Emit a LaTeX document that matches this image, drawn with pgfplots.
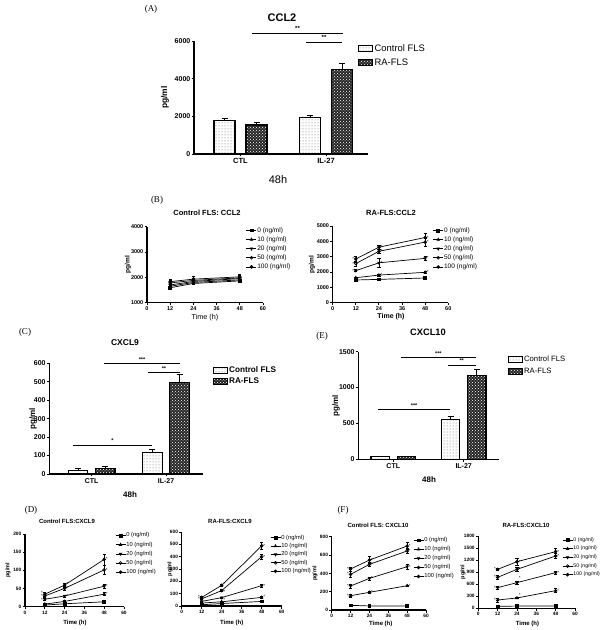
\documentclass[border=0pt]{standalone}
\usepackage{fontspec}
\setmainfont{Liberation Sans}
\newfontfamily\seriffont{Liberation Serif}
\usepackage{pgfplots}
\pgfplotsset{compat=1.18}
\usetikzlibrary{patterns}
\newcommand{\fs}[1]{\fontsize{#1}{#1}\selectfont}
\newcommand{\sR}[2]{\node[font=\fs{4.5}, anchor=west, inner sep=0pt, xshift=1.6pt] at (axis cs:#1,#2) {*};}
\newcommand{\sL}[2]{\node[font=\fs{4.5}, anchor=east, inner sep=0pt, xshift=-1.6pt] at (axis cs:#1,#2) {*};}
\pgfplotsset{
  gp/.style={
    scale only axis, anchor=south west, clip=false,
    axis x line*=bottom, axis y line*=left,
    axis line style={-, line width=1.1pt},
    tick align=outside, major tick length=2.5pt,
    every tick/.style={black, line width=0.9pt},
    /pgf/number format/assume math mode=true,
    /pgf/number format/1000 sep={},
    scaled y ticks=false,
    legend cell align=left,
    yticklabel style={inner sep=1pt},
    xticklabel style={inner sep=1.5pt},
  },
  bargp/.style={gp, ybar, xtick={1,2}, xticklabels={CTL,IL-27},
    error bars/y dir=plus, error bars/y explicit,
    error bars/error bar style={line width=1pt, black},
    error bars/error mark options={rotate=90, mark size=3pt, line width=1pt, black},
    legend image code/.code={\draw[##1, line width=0.9pt] (0pt,-3pt) rectangle (14pt,3pt);},
  },
  ctrl/.style={draw=black, line width=1.2pt, pattern=dots, pattern color=black!60},
  ra/.style={draw=black, line width=1.2pt, fill=black!85, postaction={pattern=crosshatch dots, pattern color=white}},
  linegp/.style={gp, xmin=0, xmax=60, xtick={0,12,24,36,48,60},
    error bars/y dir=both, error bars/y explicit,
    error bars/error bar style={line width=0.5pt, black},
    error bars/error mark options={rotate=90, mark size=1.6pt, line width=0.5pt, black},
    legend image code/.code={\draw[mark repeat=2, mark phase=2, ##1] plot coordinates {(0pt,0pt) (5pt,0pt) (10pt,0pt)};},
    every axis plot/.append style={black, line width=0.7pt, mark size=1.4pt},
  },
  m0/.style={mark=square*, mark options={solid, fill=black}},
  m10/.style={mark=triangle*, mark options={solid, fill=black}},
  m20/.style={mark=triangle*, mark options={solid, fill=black, rotate=180}},
  m50/.style={mark=o, mark options={solid}},
  m100/.style={mark=*, mark options={solid, fill=black}},
  lleg/.style n args={3}{legend style={at={(#1,#2)}, anchor=west, draw=none, fill=none, inner sep=0pt, font=\fs{#3}, row sep=1.9pt, nodes={inner sep=0.5pt}}},
}
\begin{document}
\begin{tikzpicture}
\useasboundingbox (0,0) rectangle (600pt,630pt);
\fill[white] (0,0) rectangle (600pt,630pt);

% ---------------- Panel A
\begin{axis}[bargp, at={(194pt,476pt)}, width=174pt, height=113pt,
  xmin=0.456, xmax=2.49, ymin=0, ymax=6000, ytick={0,2000,4000,6000},
  bar width=0.246,
  yticklabel style={font=\bfseries\fs{7}},
  xticklabel style={font=\bfseries\fs{7.5}},
  legend style={at={(0.943,0.870)}, anchor=west, draw=none, fill=none, font=\fs{9.4}, row sep=2.5pt, inner sep=0pt, nodes={inner sep=1.5pt}},
]
\addplot[ctrl, bar shift=-0.187] coordinates {(1,1793) +- (0,100) (2,1935) +- (0,106)};
\addplot[ra, bar shift=0.187] coordinates {(1,1544) +- (0,107) (2,4473) +- (0,320)};
\legend{Control FLS, RA-FLS}
\draw[line width=0.9pt] (axis cs:1.134,6425) -- (axis cs:2.199,6425) node[midway, above=-1.5pt, font=\fs{6}\bfseries]{**};
\draw[line width=0.9pt] (axis cs:1.766,5947) -- (axis cs:2.187,5947) node[midway, above=-1.5pt, font=\fs{6}\bfseries]{**};
\end{axis}
\node[font=\seriffont\fs{9}] at (151pt,620.7pt) {(A)};
\node[font=\bfseries\fs{11}] at (282pt,612pt) {CCL2};
\node[font=\bfseries\fs{8.4}, rotate=90] at (165pt,532.5pt) {pg/ml};
\node[font=\fs{11}] at (278pt,450pt) {48h};

% ---------------- Panel B left
\begin{axis}[linegp, at={(147pt,327.3pt)}, width=116pt, height=76pt,
  ymin=1000, ymax=4000, ytick={1000,2000,3000,4000},
  yticklabel style={font=\bfseries\fs{5.5}}, xticklabel style={font=\bfseries\fs{5.5}},
  lleg={0.853}{0.711}{6.5},
]
\addplot[m0] coordinates {(12,1590) +- (0,60) (24,1760) +- (0,50) (48,1860) +- (0,60)};
\addplot[m10] coordinates {(12,1650) +- (0,70) (24,1800) +- (0,60) (48,1900) +- (0,70)};
\addplot[m20] coordinates {(12,1700) +- (0,80) (24,1840) +- (0,80) (48,1950) +- (0,80)};
\addplot[m50] coordinates {(12,1780) +- (0,100) (24,1880) +- (0,100) (48,1980) +- (0,100)};
\addplot[m100] coordinates {(12,1830) +- (0,80) (24,1930) +- (0,120) (48,2020) +- (0,100)};
\legend{0 (ng/ml), 10 (ng/ml), 20 (ng/ml), 50 (ng/ml), 100 (ng/ml)}
\end{axis}
\node[font=\seriffont\fs{9}] at (157pt,430pt) {(B)};
\node[font=\bfseries\fs{7.5}] at (207pt,417pt) {Control FLS: CCL2};
\node[font=\bfseries\fs{6.5}, rotate=90] at (128pt,365.3pt) {pg/ml};
\node[font=\fs{7.2}] at (205pt,312pt) {Time (h)};

% ---------------- Panel B right
\begin{axis}[linegp, at={(332.7pt,327.3pt)}, width=115.6pt, height=76.7pt,
  ymin=0, ymax=5000, ytick={0,1000,...,5000},
  yticklabel style={font=\bfseries\fs{5.5}}, xticklabel style={font=\bfseries\fs{5.5}},
  lleg={0.865}{0.704}{6.5},
]
\addplot[m0] coordinates {(12,1480) +- (0,60) (24,1520) +- (0,50) (48,1610) +- (0,60)};
\addplot[m10] coordinates {(12,1630) +- (0,40) (24,1800) +- (0,50) (48,1980) +- (0,50)};
\addplot[m20] coordinates {(12,2090) +- (0,60) (24,2600) +- (0,300) (48,2890) +- (0,150)};
\addplot[m50] coordinates {(12,2550) +- (0,150) (24,3350) +- (0,150) (48,3950) +- (0,250)};
\addplot[m100] coordinates {(12,2850) +- (0,200) (24,3620) +- (0,150) (48,4250) +- (0,300)};
\legend{0 (ng/ml), 10 (ng/ml), 20 (ng/ml), 50 (ng/ml), 100 (ng/ml)}
\sL{12}{2090}\sL{12}{2550}\sL{12}{2850}
\sR{24}{1800}\sR{24}{2600}\sR{24}{3350}\sR{24}{3620}
\sR{48}{1980}\sR{48}{2890}\sR{48}{3950}\sR{48}{4250}
\end{axis}
\node[font=\bfseries\fs{7.5}] at (391pt,417pt) {RA-FLS:CCL2};
\node[font=\bfseries\fs{6.5}, rotate=90] at (312pt,365.3pt) {pg/ml};
\node[font=\bfseries\fs{7}] at (391pt,313.3pt) {Time (h)};

% ---------------- Panel C
\begin{axis}[bargp, at={(49.3pt,156pt)}, width=154pt, height=110.7pt,
  xmin=0.429, xmax=2.502, ymin=0, ymax=600, ytick={0,100,...,600},
  bar width=0.262,
  yticklabel style={font=\bfseries\fs{7}},
  xticklabel style={font=\bfseries\fs{7}},
  legend style={at={(1.063,0.883)}, anchor=west, draw=none, fill=none, font=\bfseries\fs{8.2}, row sep=1.8pt, inner sep=0pt, nodes={inner sep=1pt}},
]
\addplot[ctrl, bar shift=-0.183] coordinates {(1,18) +- (0,10) (2,115) +- (0,20)};
\addplot[ra, bar shift=0.183] coordinates {(1,30) +- (0,10) (2,497) +- (0,40)};
\legend{Control FLS, RA-FLS}
\draw[line width=0.9pt] (axis cs:1.165,600) -- (axis cs:2.188,600) node[midway, above=-1.5pt, font=\fs{5.5}\bfseries]{***};
\draw[line width=0.9pt] (axis cs:1.757,551) -- (axis cs:2.188,551) node[midway, above=-1.5pt, font=\fs{5.5}\bfseries]{**};
\draw[line width=0.9pt] (axis cs:0.748,157) -- (axis cs:1.811,157) node[midway, above=-1.5pt, font=\fs{5.5}\bfseries]{*};
\end{axis}
\node[font=\seriffont\fs{9}] at (25pt,297.3pt) {(C)};
\node[font=\bfseries\fs{8.5}] at (125pt,287pt) {CXCL9};
\node[font=\bfseries\fs{8}, rotate=90] at (33pt,211.3pt) {pg/ml};
\node[font=\bfseries\fs{8}] at (130pt,135pt) {48h};

% ---------------- Panel E
\begin{axis}[bargp, at={(358.3pt,170.7pt)}, width=141pt, height=107.6pt,
  xmin=0.503, xmax=2.506, ymin=0, ymax=1500, ytick={0,500,1000,1500},
  bar width=0.26,
  yticklabel style={font=\bfseries\fs{7}},
  xticklabel style={font=\bfseries\fs{7}},
  legend style={at={(1.062,0.875)}, anchor=west, draw=none, fill=none, font=\fs{7.7}, row sep=2.8pt, inner sep=0pt, nodes={inner sep=1pt}},
]
\addplot[ctrl, bar shift=-0.187] coordinates {(1,37) +- (0,5) (2,557) +- (0,37)};
\addplot[ra, bar shift=0.187] coordinates {(1,37) +- (0,5) (2,1170) +- (0,84)};
\legend{Control FLS, RA-FLS}
\draw[line width=0.9pt] (axis cs:1.109,1422) -- (axis cs:2.171,1422) node[midway, above=-1.5pt, font=\fs{5.5}\bfseries]{***};
\draw[line width=0.9pt] (axis cs:1.773,1314) -- (axis cs:2.171,1314) node[midway, above=-1.5pt, font=\fs{5.5}\bfseries]{**};
\draw[line width=0.9pt] (axis cs:0.787,688) -- (axis cs:1.806,688) node[midway, above=-1.5pt, font=\fs{5.5}\bfseries]{***};
\end{axis}
\node[font=\seriffont\fs{9}] at (322pt,293.3pt) {(E)};
\node[font=\bfseries\fs{9.3}] at (428pt,297.3pt) {CXCL10};
\node[font=\bfseries\fs{8}, rotate=90] at (336pt,224.5pt) {pg/ml};
\node[font=\bfseries\fs{8}] at (429pt,150pt) {48h};

% ---------------- Panel D left
\begin{axis}[linegp, at={(25pt,23.5pt)}, width=99pt, height=72.5pt,
  ymin=0, ymax=200, ytick={0,50,...,200},
  yticklabel style={font=\bfseries\fs{4.8}}, xticklabel style={font=\bfseries\fs{4.8}},
  lleg={0.909}{0.726}{5.8}, legend style={row sep=2.45pt},
]
\addplot[m0] coordinates {(12,4) +- (0,1) (24,7.5) +- (0,2) (48,13) +- (0,3)};
\addplot[m10] coordinates {(12,6.5) +- (0,2) (24,14) +- (0,2) (48,34) +- (0,4)};
\addplot[m20] coordinates {(12,20) +- (0,3) (24,29) +- (0,3) (48,56) +- (0,6)};
\addplot[m50] coordinates {(12,29) +- (0,4) (24,50) +- (0,5) (48,101) +- (0,12)};
\addplot[m100] coordinates {(12,34) +- (0,6) (24,59) +- (0,5) (48,130) +- (0,15)};
\legend{0 (ng/ml), 10 (ng/ml), 20 (ng/ml), 50 (ng/ml), 100 (ng/ml)}
\sL{12}{18}\sL{12}{28}\sL{12}{37}
\sR{24}{29}\sR{24}{50}\sR{24}{62}
\sR{48}{34}\sR{48}{56}\sR{48}{101}\sR{48}{130}
\end{axis}
\node[font=\seriffont\fs{9}] at (31pt,120pt) {(D)};
\node[font=\bfseries\fs{6}] at (67pt,109pt) {Control FLS:CXCL9};
\node[font=\bfseries\fs{5.5}, rotate=90] at (8pt,59.8pt) {pg/ml};
\node[font=\bfseries\fs{6}] at (75pt,7pt) {Time (h)};

% ---------------- Panel D right
\begin{axis}[linegp, at={(181.7pt,24pt)}, width=100pt, height=74pt,
  ymin=0, ymax=600, ytick={0,100,...,600},
  yticklabel style={font=\bfseries\fs{4.8}}, xticklabel style={font=\bfseries\fs{4.8}},
  lleg={0.883}{0.696}{5.8}, legend style={row sep=1.65pt},
]
\addplot[m0] coordinates {(12,10) +- (0,3) (24,20) +- (0,3) (48,37) +- (0,4)};
\addplot[m10] coordinates {(12,24) +- (0,3) (24,34) +- (0,3) (48,70) +- (0,5)};
\addplot[m20] coordinates {(12,37) +- (0,4) (24,68) +- (0,5) (48,165) +- (0,12)};
\addplot[m50] coordinates {(12,58) +- (0,5) (24,125) +- (0,8) (48,400) +- (0,20)};
\addplot[m100] coordinates {(12,70) +- (0,6) (24,168) +- (0,8) (48,488) +- (0,25)};
\legend{0 (ng/ml), 10 (ng/ml), 20 (ng/ml), 50 (ng/ml), 100 (ng/ml)}
\sL{12}{58}\sL{12}{72}
\sR{24}{52}\sR{24}{110}\sR{24}{175}
\sR{48}{70}\sR{48}{165}\sR{48}{400}\sR{48}{488}
\end{axis}
\node[font=\bfseries\fs{6}] at (230pt,109pt) {RA-FLS:CXCL9};
\node[font=\bfseries\fs{5.5}, rotate=90] at (170pt,61pt) {pg/ml};
\node[font=\bfseries\fs{6}] at (231.7pt,7pt) {Time (h)};

% ---------------- Panel F left
\begin{axis}[linegp, at={(331.7pt,20pt)}, width=94.3pt, height=73.3pt,
  ymin=0, ymax=800, ytick={0,200,...,800},
  yticklabel style={font=\bfseries\fs{4.8}}, xticklabel style={font=\bfseries\fs{4.8}},
  lleg={0.862}{0.704}{5.8}, legend style={row sep=2.35pt},
]
\addplot[m0] coordinates {(12,51) +- (0,5) (24,44) +- (0,4) (48,44) +- (0,4)};
\addplot[m10] coordinates {(12,156) +- (0,15) (24,193) +- (0,10) (48,265) +- (0,8)};
\addplot[m20] coordinates {(12,262) +- (0,20) (24,345) +- (0,15) (48,473) +- (0,30)};
\addplot[m50] coordinates {(12,389) +- (0,30) (24,498) +- (0,25) (48,644) +- (0,25)};
\addplot[m100] coordinates {(12,447) +- (0,25) (24,545) +- (0,40) (48,698) +- (0,40)};
\legend{0 (ng/ml), 10 (ng/ml), 20 (ng/ml), 50 (ng/ml), 100 (ng/ml)}
\sL{12}{156}\sL{12}{262}\sL{12}{389}\sL{12}{447}
\sR{24}{193}\sR{24}{345}\sR{24}{498}\sR{24}{545}
\sR{48}{265}\sR{48}{473}\sR{48}{644}\sR{48}{698}
\end{axis}
\node[font=\seriffont\fs{9}] at (343pt,120pt) {(F)};
\node[font=\bfseries\fs{6}] at (378pt,105pt) {Control FLS: CXCL10};
\node[font=\bfseries\fs{5.5}, rotate=90] at (315pt,56.6pt) {pg/ml};
\node[font=\bfseries\fs{6}] at (380.8pt,6pt) {Time (h)};

% ---------------- Panel F right
\begin{axis}[linegp, at={(478.3pt,21.7pt)}, width=96.7pt, height=72.3pt,
  ymin=0, ymax=1800, ytick={0,300,...,1800},
  yticklabel style={font=\bfseries\fs{4.8}}, xticklabel style={font=\bfseries\fs{4.8}},
  lleg={0.866}{0.704}{5.2}, legend style={row sep=2.4pt},
]
\addplot[m0] coordinates {(12,50) +- (0,8) (24,55) +- (0,8) (48,58) +- (0,8)};
\addplot[m10] coordinates {(12,207) +- (0,50) (24,257) +- (0,15) (48,440) +- (0,50)};
\addplot[m20] coordinates {(12,514) +- (0,40) (24,639) +- (0,40) (48,888) +- (0,30)};
\addplot[m50] coordinates {(12,771) +- (0,50) (24,970) +- (0,60) (48,1302) +- (0,60)};
\addplot[m100] coordinates {(12,970) +- (0,30) (24,1161) +- (0,80) (48,1410) +- (0,80)};
\legend{0 (ng/ml), 10 (ng/ml), 20 (ng/ml), 50 (ng/ml), 100 (ng/ml)}
\sL{12}{207}\sL{12}{514}\sL{12}{771}\sL{12}{970}
\sR{24}{330}\sR{24}{760}\sR{24}{970}\sR{24}{1161}
\sR{48}{440}\sR{48}{888}\sR{48}{1302}\sR{48}{1410}
\end{axis}
\node[font=\bfseries\fs{6}] at (526pt,105pt) {RA-FLS:CXCL10};
\node[font=\bfseries\fs{5.5}, rotate=90] at (463pt,58pt) {pg/ml};
\node[font=\bfseries\fs{6}] at (527.5pt,6pt) {Time (h)};
\end{tikzpicture}
\end{document}
